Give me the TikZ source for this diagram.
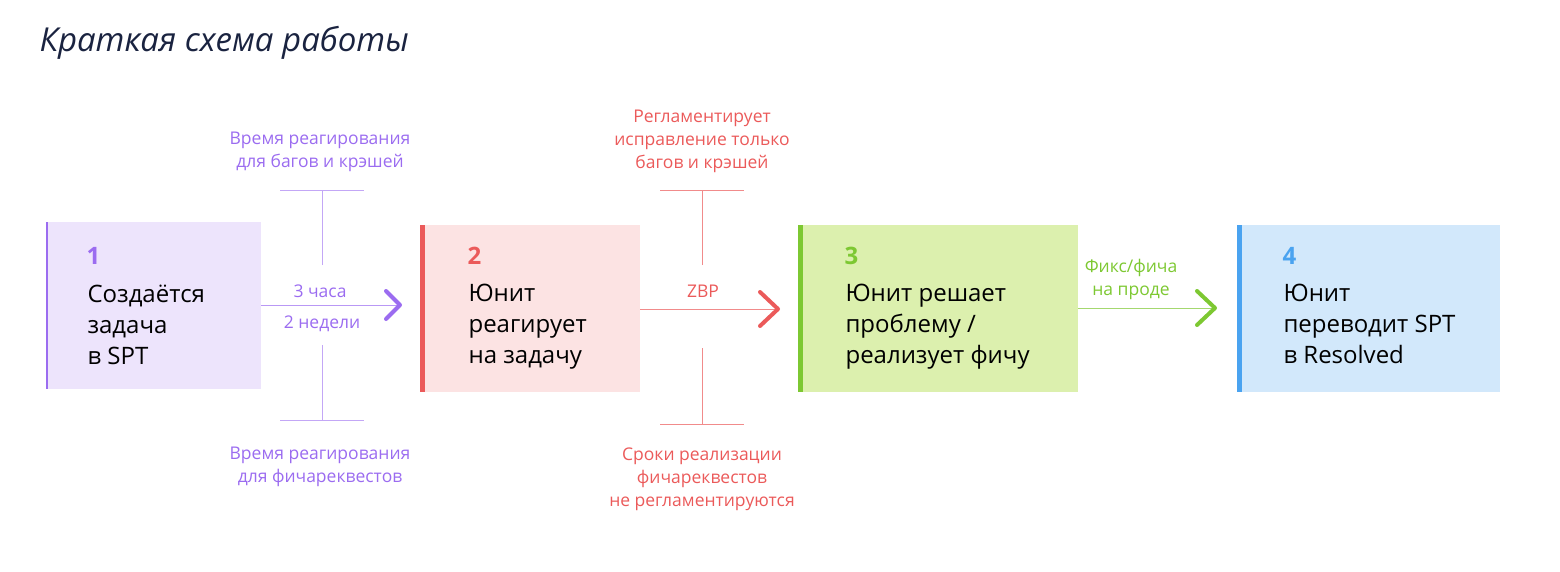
\documentclass[tikz,border=0pt]{standalone}
\usepackage{fontspec}
\setmainfont{Open Sans}
\definecolor{pur}{HTML}{9B6CF0}\definecolor{red1}{HTML}{EB5A5A}
\definecolor{grn}{HTML}{7DC832}\definecolor{blu}{HTML}{4AA3F0}
\definecolor{navy}{HTML}{1A2340}
\begin{document}
\begin{tikzpicture}[x=1pt,y=-1pt,
 box/.style={anchor=north west,inner sep=0pt,outer sep=0pt},
 num/.style={anchor=west,font=\fontsize{24}{26}\selectfont\bfseries},
 txt/.style={anchor=north west,align=left,font=\fontsize{24}{31}\selectfont,text=black},
 lab/.style={align=center,font=\fontsize{17.5}{23}\selectfont},
 chev/.style={line width=4pt,line cap=round,line join=round}]
\useasboundingbox (0,0) rectangle (1560,571);
\node[anchor=west,font=\fontsize{33}{36}\selectfont\itshape,text=navy] (title) at (36,43) {Краткая схема работы};
% boxes
\fill[pur!18] (46,222) rectangle (261,389); \draw[pur,line width=2pt] (47,222)--(47,389);
\coordinate (b1e) at (261,305);
\fill[red1!17] (420,225) rectangle (640,392); \fill[red1] (420,225) rectangle (425,392);
\coordinate (b2w) at (400,305); \coordinate (b2e) at (640,309);
\fill[grn!30!white!90!yellow] (798,225) rectangle (1078,392); \fill[grn] (798,225) rectangle (803,392);
\coordinate (b3w) at (778,309); \coordinate (b3e) at (1078,308);
\fill[blu!25] (1237,225) rectangle (1500,392); \fill[blu] (1237,225) rectangle (1242,392);
\coordinate (b4w) at (1215,308);
\node[num,text=pur] (n1) at (83,256) {1};
\node[txt] (t1) at (84,281) {Создаётся\\задача\\в SPT};
\node[num,text=red1] (n2) at (464,256) {2};
\node[txt] (t2) at (465,281) {Юнит\\реагирует\\на задачу};
\node[num,text=grn] (n3) at (841,256) {3};
\node[txt] (t3) at (842,281) {Юнит решает\\проблему /\\реализует фичу};
\node[num,text=blu] (n4) at (1279,256) {4};
\node[txt] (t4) at (1280,281) {Юнит\\переводит SPT\\в Resolved};
% arrow 1
\draw[pur!70,line width=1pt] (b1e)--(b2w);
\draw[pur,chev] ([shift={(-14,-14)}]b2w)--(b2w)--([shift={(-14,14)}]b2w);
\node[lab,text=pur] (l1a) at (320,291) {3 часа};
\node[lab,text=pur] (l1b) at (322,324) {2 недели};
\draw[pur!60,line width=1pt] (322,265)--(322,190) (280,190)--(364,190) (322,345)--(322,420) (280,420)--(364,420);
\node[lab,text=pur] (l1t) at (320,152) {Время реагирования\\для багов и крэшей};
\node[lab,text=pur] (l1d) at (320,467) {Время реагирования\\для фичареквестов};
% arrow 2
\draw[red1!70,line width=1pt] (b2e)--(b3w);
\draw[red1,chev] ([shift={(-18,-17)}]b3w)--(b3w)--([shift={(-18,17)}]b3w);
\node[lab,text=red1] (l2) at (703,291) {ZBP};
\draw[red1!70,line width=1pt] (702,265)--(702,190) (660,190)--(744,190) (702,348)--(702,424) (660,424)--(744,424);
\node[lab,text=red1] (l2t) at (702,141) {Регламентирует\\исправление только\\багов и крэшей};
\node[lab,text=red1] (l2d) at (702,479) {Сроки реализации\\фичареквестов\\не регламентируются};
% arrow 3
\draw[grn!70,line width=1pt] (b3e)--(b4w);
\draw[grn,chev] ([shift={(-18,-17)}]b4w)--(b4w)--([shift={(-18,17)}]b4w);
\node[lab,text=grn] (l3) at (1131,279) {Фикс/фича\\на проде};
\end{tikzpicture}
\end{document}
